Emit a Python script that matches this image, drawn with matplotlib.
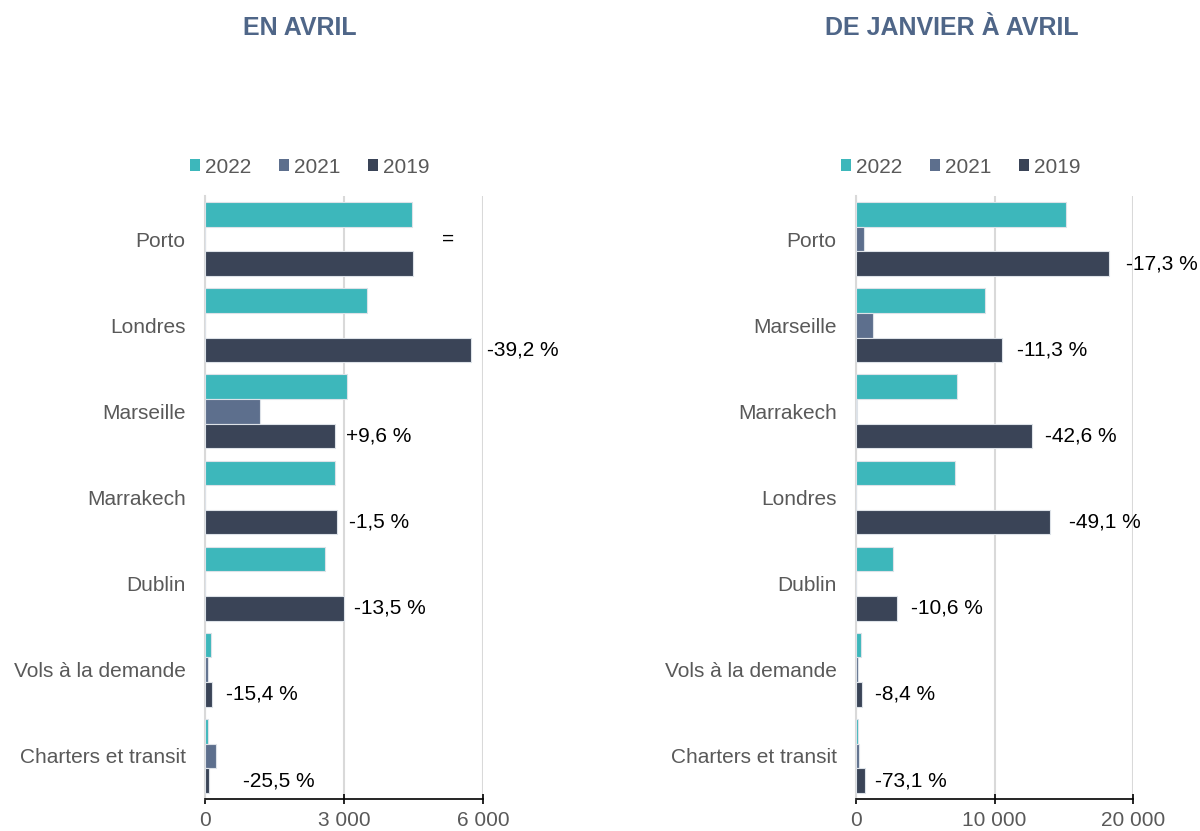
import numpy as np
import matplotlib
matplotlib.use('Agg')
import matplotlib.pyplot as plt
from matplotlib.patches import Patch
from matplotlib.ticker import FuncFormatter

plt.rcParams['font.family'] = ['Liberation Sans', 'DejaVu Sans']

# Données - en avril
avril_cats = ['Porto', 'Londres', 'Marseille', 'Marrakech', 'Dublin',
              'Vols à la demande', 'Charters et transit']
avril_2022 = [4470, 3500, 3065, 2800, 2585, 125, 60]
avril_2021 = [0, 0, 1190, 0, 0, 60, 245]
avril_2019 = [4490, 5740, 2800, 2850, 2995, 145, 95]
avril_pct = ['=', '-39,2 %', '+9,6 %', '-1,5 %', '-13,5 %', '-15,4 %', '-25,5 %']

# Données - de janvier à avril
cumul_cats = ['Porto', 'Marseille', 'Marrakech', 'Londres', 'Dublin',
              'Vols à la demande', 'Charters et transit']
cumul_2022 = [15140, 9320, 7270, 7130, 2650, 390, 145]
cumul_2021 = [580, 1250, 100, 0, 0, 170, 215]
cumul_2019 = [18300, 10520, 12690, 14010, 2990, 435, 650]
cumul_pct = ['-17,3 %', '-11,3 %', '-42,6 %', '-49,1 %', '-10,6 %', '-8,4 %', '-73,1 %']

# label placement (data units) and which bar slot they sit on (0 = 2021, 1 = 2019)
avril_lbl_x = [5115, 6090, 3045, 3115, 3225, 450, 815]
avril_lbl_slot = [0, 1, 1, 1, 1, 1, 1]
cumul_lbl_x = [19520, 11600, 13620, 15360, 3950, 1350, 1400]
cumul_lbl_slot = [1, 1, 1, 1, 1, 1, 1]

c22, c21, c19 = '#3db7bb', '#5d6f8d', '#3a4457'
grey_txt = '#595959'
title_col = '#4f6688'

fig = plt.figure(figsize=(12, 8.31), dpi=100)
ax1 = fig.add_axes([205 / 1200, 1 - 799 / 831, 278 / 1200, 603 / 831])
ax2 = fig.add_axes([856 / 1200, 1 - 799 / 831, 277 / 1200, 603 / 831])

w = 0.286
fmt = FuncFormatter(lambda v, p: '{:,.0f}'.format(v).replace(',', ' '))


def draw(ax, cats, v22, v21, v19, pct, lx, lslot, xmax, step):
    y = np.arange(len(cats))
    kw = dict(height=w, edgecolor='#dde2e8', linewidth=0.8, zorder=3)
    ax.barh(y - w, v22, color=c22, **kw)
    ax.barh(y, v21, color=c21, **kw)
    ax.barh(y + w, v19, color=c19, **kw)
    for i in range(len(cats)):
        ax.text(lx[i], y[i] + w * lslot[i], pct[i], fontsize=15, color='black',
                ha='left', va='center', clip_on=False, zorder=4)
    ax.set_xlim(0, xmax)
    ax.set_ylim(len(cats) - 0.5, -0.5)
    ax.set_xticks(np.arange(0, xmax + 1, step))
    ax.xaxis.set_major_formatter(fmt)
    ax.set_yticks(y)
    ax.set_yticklabels(cats)
    ax.grid(axis='x', color='#d9d9d9', linewidth=1.5, zorder=0)
    for s in ['top', 'right']:
        ax.spines[s].set_visible(False)
    ax.spines['left'].set_color('#d9d9d9')
    ax.spines['left'].set_linewidth(1.5)
    ax.spines['bottom'].set_color('black')
    ax.spines['bottom'].set_linewidth(1.2)
    ax.tick_params(axis='y', length=0, labelsize=15, labelcolor=grey_txt, pad=14)
    ax.tick_params(axis='x', direction='inout', length=7, width=1.2,
                   labelsize=15, labelcolor=grey_txt, pad=5)
    handles = [Patch(facecolor=c22), Patch(facecolor=c21), Patch(facecolor=c19)]
    ax.legend(handles, ['2022', '2021', '2019'], loc='center left',
              bbox_to_anchor=(-0.123, 1.048), ncol=3, frameon=False,
              fontsize=15, handlelength=0.5, handleheight=0.5,
              handletextpad=0.25, columnspacing=1.3, labelcolor=grey_txt)


draw(ax1, avril_cats, avril_2022, avril_2021, avril_2019, avril_pct,
     avril_lbl_x, avril_lbl_slot, 6000, 3000)
draw(ax2, cumul_cats, cumul_2022, cumul_2021, cumul_2019, cumul_pct,
     cumul_lbl_x, cumul_lbl_slot, 20000, 10000)

fig.text(300 / 1200, 1 - 28 / 831, 'EN AVRIL', ha='center', va='center',
         fontsize=18, fontweight='bold', color=title_col)
fig.text(952 / 1200, 1 - 28 / 831, 'DE JANVIER À AVRIL', ha='center', va='center',
         fontsize=18, fontweight='bold', color=title_col)

fig.savefig('out.png', dpi=100, facecolor='white')
